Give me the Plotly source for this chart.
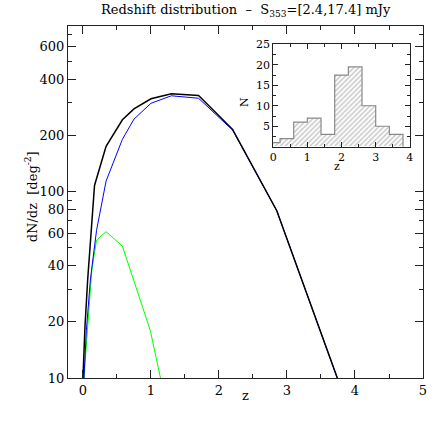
import plotly.graph_objects as go

# main panel curves: z vs dN/dz [deg^-2]
z_total = [0.0, 0.03, 0.07, 0.12, 0.17, 0.34, 0.58, 0.75, 1.0, 1.3, 1.7, 2.2, 2.85, 3.74]
dndz_total = [10, 19, 34, 62, 108, 175, 243, 278, 315, 335, 328, 216, 79, 10]

z_blue = [0.015, 0.05, 0.11, 0.2, 0.34, 0.58, 0.75, 1.0, 1.3, 1.7, 2.2, 2.85, 3.74]
dndz_blue = [10, 18, 34, 62, 114, 191, 245, 298, 327, 317, 214, 79, 10]

z_green = [0.015, 0.13, 0.2, 0.34, 0.58, 0.99, 1.14]
dndz_green = [10, 38, 55, 61, 51, 18, 10]

# inset histogram (bins 0.4 wide, centred on multiples of 0.4)
hist_centers = [0.0, 0.4, 0.8, 1.2, 1.6, 2.0, 2.4, 2.8, 3.2, 3.6]
hist_counts = [1, 2, 6, 7, 3, 17.5, 19.5, 10, 5, 3]
hist_width = 0.4

y_ticks = [10, 20, 40, 60, 80, 100, 200, 400, 600]
y_minor = [30, 50, 70, 90, 300, 500, 700]

FONT = "DejaVu Serif"

fig = go.Figure()
fig.add_trace(go.Scatter(x=z_green, y=dndz_green, mode="lines",
                         line={"color": "#00ff00", "width": 1}))
fig.add_trace(go.Scatter(x=z_blue, y=dndz_blue, mode="lines",
                         line={"color": "#0000ff", "width": 1}))
fig.add_trace(go.Scatter(x=z_total, y=dndz_total, mode="lines",
                         line={"color": "black", "width": 1.5}))

# hatched histogram plus a step outline
fig.add_trace(go.Bar(
    x=hist_centers, y=hist_counts, width=hist_width,
    xaxis="x2", yaxis="y2",
    marker={"color": "white", "line": {"width": 0},
            "pattern": {"shape": "/", "fgcolor": "#777777", "bgcolor": "white",
                        "size": 3.5, "solidity": 0.35}},
))
edges = [c - hist_width / 2 for c in hist_centers] + [hist_centers[-1] + hist_width / 2]
fig.add_trace(go.Scatter(
    x=edges, y=hist_counts + [0], mode="lines", line_shape="hv",
    xaxis="x2", yaxis="y2", line={"color": "#8a8a8a", "width": 1.2},
))

axis_common = dict(showline=True, linecolor="#222", linewidth=1, mirror="allticks",
                   ticks="inside", tickcolor="#222", showgrid=False, zeroline=False,
                   automargin=False)

fig.update_layout(
    width=447, height=447,
    paper_bgcolor="white", plot_bgcolor="white",
    showlegend=False,
    margin={"l": 68, "r": 24, "t": 26, "b": 69},
    font={"family": FONT, "size": 13, "color": "black"},
    bargap=0,
    xaxis=dict(axis_common, range=[-0.22, 5], tickvals=[0, 1, 2, 3, 4, 5],
               ticklen=8, minor={"dtick": 0.5, "ticklen": 4, "ticks": "inside",
                                 "tickcolor": "#222"}),
    yaxis=dict(axis_common, type="log", range=[1, 2.889], tickvals=y_ticks,
               ticktext=[str(v) for v in y_ticks], ticklen=8,
               minor={"tickvals": y_minor, "ticklen": 4, "ticks": "inside",
                      "tickcolor": "#222"}),
    xaxis2=dict(axis_common, domain=[0.578, 0.963], anchor="y2", range=[0, 4],
                tickvals=[0, 1, 2, 3, 4], ticklen=5, tickfont={"size": 11},
                minor={"dtick": 0.5, "ticklen": 3, "ticks": "inside",
                       "tickcolor": "#222"}),
    yaxis2=dict(axis_common, domain=[0.657, 0.948], anchor="x2", range=[0, 25],
                tickvals=[5, 10, 15, 20, 25], ticklen=5, tickfont={"size": 11},
                minor={"dtick": 2.5, "ticklen": 3, "ticks": "inside",
                       "tickcolor": "#222"}),
    annotations=[
        dict(text="Redshift distribution  \u2013  S<sub>353</sub>=[2.4,17.4] mJy",
             x=0.5, y=1, xref="paper", yref="paper", xanchor="center",
             yanchor="bottom", yshift=5, showarrow=False, font={"size": 13}),
        dict(text="dN/dz  [deg<sup>-2</sup>]", x=-0.13, y=0.516, xref="paper",
             yref="paper", textangle=-90, showarrow=False, font={"size": 13}),
        dict(text="z", x=0.5, y=-0.077, xref="paper", yref="paper",
             showarrow=False, font={"size": 13}),
        dict(text="z", x=0.771, y=0.600, xref="paper", yref="paper",
             showarrow=False, font={"size": 11}),
        dict(text="N", x=0.4986, y=0.804, xref="paper", yref="paper",
             textangle=-90, showarrow=False, font={"size": 11}),
    ],
)

# drop the browser's default 8px body margin so the figure sits at the page corner
fig.write_html("out.html", config={"displayModeBar": False},
               post_script="document.body.style.margin = '0';")
